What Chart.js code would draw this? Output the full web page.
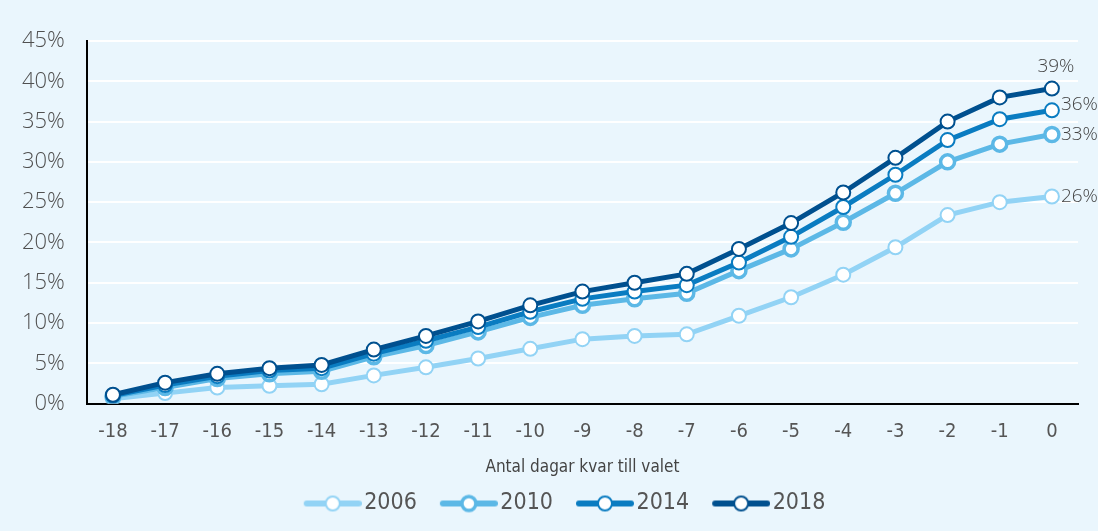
<!DOCTYPE html>
<html>
<head>
<meta charset="utf-8">
<script src="https://cdn.jsdelivr.net/npm/chart.js@4/dist/chart.umd.min.js"></script>
<style>
  html, body { margin: 0; padding: 0; background: #eaf6fd; }
  #wrap { width: 1098px; height: 531px; }
</style>
</head>
<body>
<div id="wrap"><canvas id="chart" width="1098" height="531"></canvas></div>
<script>
const days = ['-18','-17','-16','-15','-14','-13','-12','-11','-10','-9','-8','-7','-6','-5','-4','-3','-2','-1','0'];
const yTicks = [0, 5, 10, 15, 20, 25, 30, 35, 40, 45];
const years = ['2006', '2010', '2014', '2018'];
const share2006 = [0.6, 1.3, 2.0, 2.2, 2.4, 3.5, 4.5, 5.6, 6.8, 8.0, 8.4, 8.6, 10.9, 13.2, 16.0, 19.4, 23.4, 25.0, 25.7];
const share2010 = [0.9, 2.0, 3.1, 3.7, 4.0, 5.8, 7.2, 8.9, 10.7, 12.2, 13.0, 13.7, 16.5, 19.2, 22.5, 26.1, 30.0, 32.2, 33.4];
const share2014 = [1.0, 2.3, 3.4, 4.1, 4.4, 6.2, 7.8, 9.5, 11.4, 13.0, 13.9, 14.7, 17.5, 20.7, 24.4, 28.4, 32.7, 35.3, 36.4];
const share2018 = [1.1, 2.6, 3.7, 4.4, 4.8, 6.7, 8.4, 10.2, 12.2, 13.9, 15.0, 16.1, 19.2, 22.4, 26.2, 30.5, 35.0, 38.0, 39.1];

const colors = ['#92d3f5', '#5cb8e6', '#0a7cc1', '#00508f'];
const ringWidths = [2, 3.5, 2, 2];
const narrow = "'Liberation Sans Narrow', 'DejaVu Sans Condensed', sans-serif";
const light = "'Open Sans', 'Noto Sans', sans-serif";

// line + circle icon for the legend (transparent room on the left for spacing)
function legendIcon(color, ring) {
    const c = document.createElement('canvas');
    c.width = 78;
    c.height = 20;
    const g = c.getContext('2d');
    g.strokeStyle = color;
    g.lineWidth = 6;
    g.lineCap = 'round';
    g.beginPath();
    g.moveTo(23, 10);
    g.lineTo(75, 10);
    g.stroke();
    g.beginPath();
    g.arc(49, 10, 7, 0, Math.PI * 2);
    g.fillStyle = '#fff';
    g.fill();
    g.lineWidth = ring;
    g.stroke();
    return c;
}

const series = [share2006, share2010, share2014, share2018];
const datasets = series.map((data, i) => ({
    label: years[i],
    data: data,
    borderColor: colors[i],
    borderWidth: 5,
    pointRadius: 7,
    pointHoverRadius: 7,
    pointBorderWidth: ringWidths[i],
    pointBackgroundColor: '#fff',
    pointBorderColor: colors[i],
    tension: 0,
    order: series.length - 1 - i
}));

// labels on the last point of each line
const endLabels = {
    id: 'endLabels',
    afterDatasetsDraw(chart) {
        const ctx = chart.ctx;
        ctx.save();
        ctx.font = '300 19px ' + light;
        ctx.fillStyle = '#444';
        chart.data.datasets.forEach((ds, i) => {
            const meta = chart.getDatasetMeta(i);
            const pt = meta.data[meta.data.length - 1];
            const txt = Math.round(ds.data[ds.data.length - 1]) + '%';
            ctx.textBaseline = 'middle';
            if (i === 3) {
                ctx.textAlign = 'center';
                ctx.fillText(txt, pt.x + 4, pt.y - 22);
            } else {
                ctx.textAlign = 'left';
                ctx.fillText(txt, pt.x + 9, pt.y + (i === 2 ? -6 : 0));
            }
        });
        ctx.restore();
    }
};

// nudge the legend a bit to the right, like the original
const legendShift = {
    id: 'legendShift',
    afterLayout(chart) {
        if (chart.legend) {
            chart.legend.left += 20;
            chart.legend.right += 20;
        }
    }
};

new Chart(document.getElementById('chart'), {
    type: 'line',
    data: { labels: days, datasets: datasets },
    plugins: [endLabels, legendShift],
    options: {
        responsive: false,
        animation: false,
        layout: { padding: { left: 0, right: 20, top: 41, bottom: 6 } },
        plugins: {
            tooltip: { enabled: false },
            legend: {
                position: 'bottom',
                labels: {
                    usePointStyle: true,
                    pointStyleWidth: 60,
                    padding: 12,
                    color: '#555',
                    font: { family: narrow, size: 23 },
                    generateLabels: chart => chart.data.datasets.map((ds, i) => ({
                        text: ds.label,
                        fillStyle: colors[i],
                        strokeStyle: colors[i],
                        lineWidth: 0,
                        pointStyle: legendIcon(colors[i], ringWidths[i]),
                        datasetIndex: i,
                        fontColor: '#555'
                    }))
                }
            }
        },
        scales: {
            x: {
                offset: true,
                grid: { display: false },
                border: { display: true, color: '#000', width: 2 },
                ticks: {
                    color: '#555',
                    padding: 8,
                    font: { family: narrow, size: 20 },
                    maxRotation: 0,
                    autoSkip: false
                },
                title: {
                    display: true,
                    text: 'Antal dagar kvar till valet',
                    color: '#444',
                    font: { family: narrow, size: 17 },
                    padding: { top: 6, bottom: 2 }
                }
            },
            y: {
                min: yTicks[0],
                max: yTicks[yTicks.length - 1],
                afterBuildTicks: axis => { axis.ticks = yTicks.map(v => ({ value: v })); },
                grid: { color: '#ffffff', lineWidth: 2, drawTicks: false },
                border: { display: true, color: '#000', width: 2 },
                ticks: {
                    color: '#505050',
                    padding: 22,
                    font: { family: light, size: 22, weight: '300' },
                    callback: v => v + '%'
                }
            }
        }
    }
});
</script>
</body>
</html>
